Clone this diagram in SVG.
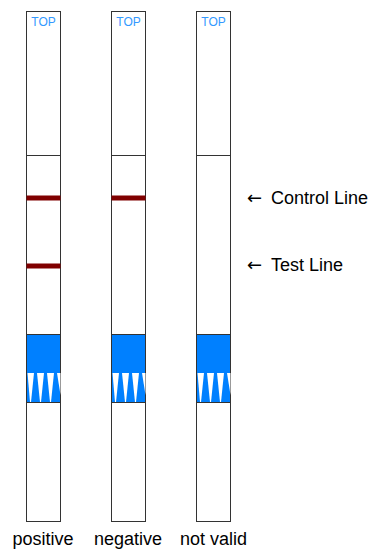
<svg xmlns="http://www.w3.org/2000/svg" width="370" height="549" viewBox="0 0 370 549">
<style>
.strip{fill:#fff;stroke:#333;stroke-width:1}
.div{stroke:#333;stroke-width:1}
.red{fill:#800000}
.blue{fill:#0080ff;stroke:#333;stroke-width:1}
.tri{fill:#fff}
.top{font-family:"Liberation Sans",Arial,sans-serif;font-size:12px;fill:#3399ff;text-anchor:middle}
.lbl{font-family:"Liberation Sans",Arial,sans-serif;font-size:18px;fill:#000}
.arr{font-family:"DejaVu Sans",sans-serif;font-size:18px}
.mid{text-anchor:middle}
</style>
<defs>
<g id="pad">
<rect class="blue" x="0" y="334.5" width="34" height="68"/>
<polygon class="tri" points="1,373 7.5,373 4.5,402 3.5,402"/>
<polygon class="tri" points="10.5,373 17.5,373 14.5,402 13.5,402"/>
<polygon class="tri" points="20.5,373 27.5,373 24.5,402 23.5,402"/>
<polygon class="tri" points="30.5,373 34,373 34,395"/>
</g>
</defs>
<g id="strip-positive">
<rect class="strip" x="26.5" y="11.5" width="34" height="510"/>
<line class="div" x1="26.5" y1="155.5" x2="60.5" y2="155.5"/>
<text class="top" x="43.5" y="26">TOP</text>
<rect class="red" x="26.5" y="195.5" width="34" height="5"/>
<rect class="red" x="26.5" y="263.5" width="34" height="5"/>
<use href="#pad" x="26.5"/>
<text class="lbl mid" x="43" y="545">positive</text>
</g>
<g id="strip-negative">
<rect class="strip" x="111.5" y="11.5" width="34" height="510"/>
<line class="div" x1="111.5" y1="155.5" x2="145.5" y2="155.5"/>
<text class="top" x="128.5" y="26">TOP</text>
<rect class="red" x="111.5" y="195.5" width="34" height="5"/>
<use href="#pad" x="111.5"/>
<text class="lbl mid" x="128" y="545">negative</text>
</g>
<g id="strip-invalid">
<rect class="strip" x="196.5" y="11.5" width="34" height="510"/>
<line class="div" x1="196.5" y1="155.5" x2="230.5" y2="155.5"/>
<text class="top" x="213.5" y="26">TOP</text>
<use href="#pad" x="196.5"/>
<text class="lbl mid" x="213.5" y="545">not valid</text>
</g>
<g id="labels">
<text class="lbl" x="247" y="204"><tspan class="arr">←</tspan><tspan x="271">Control Line</tspan></text>
<text class="lbl" x="247" y="271"><tspan class="arr">←</tspan><tspan x="271">Test Line</tspan></text>
</g>
</svg>
